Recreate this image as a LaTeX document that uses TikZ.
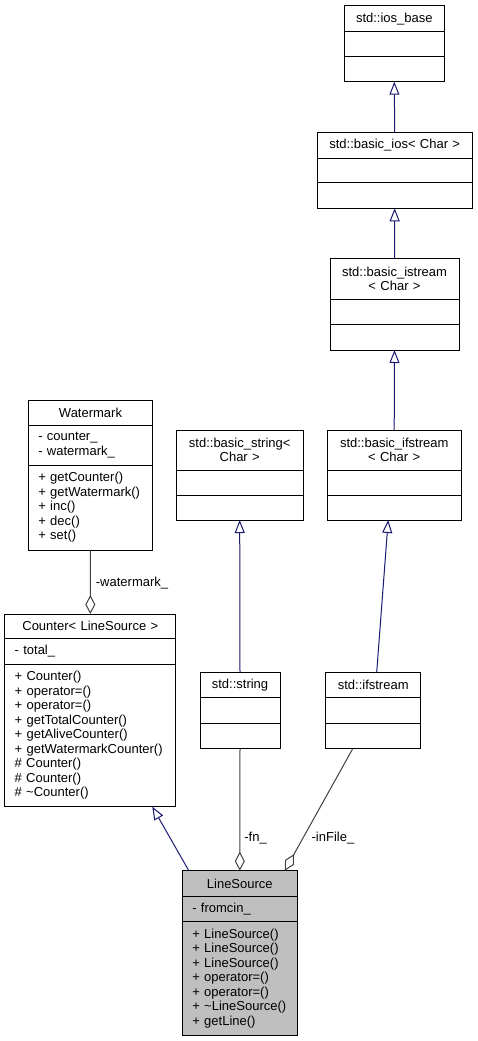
\documentclass[tikz,border=0pt]{standalone}
\usepackage{fontspec}
\setmainfont{Liberation Sans}
\usepackage{xcolor}
\usepackage{tikz}
\usetikzlibrary{positioning,arrows.meta}
\definecolor{inheritblue}{HTML}{191970}
\definecolor{usegrey}{HTML}{404040}
\definecolor{mainfill}{HTML}{BFBFBF}
\newcommand{\umlfont}{\fontsize{13}{14.5}\selectfont}

\begin{document}
\begin{tikzpicture}[x=1pt, y=-1pt, node distance=0pt,
  part/.style 2 args={rectangle, draw=black, line width=1pt, outer sep=0pt, inner xsep=10pt, inner ysep=0pt, anchor=north, text width=#1-20pt, minimum height=#2, font=\umlfont},
  head/.style 2 args={part={#1}{#2}, align=center},
  body/.style 2 args={part={#1}{#2}, align=left},
  inherit/.style={draw=inheritblue, line width=1pt, -{Triangle[open, length=13pt, width=10pt]}},
  member/.style={draw=usegrey, line width=1pt, -{Diamond[open, length=19pt, width=10pt]}},
  role/.style={font=\umlfont, inner sep=0pt, anchor=west}]
\useasboundingbox (0,0) rectangle (477,1041);

\node (iosbase) [head={100pt}{26pt}] at (394.3,5.7) {std::ios\_base};
\node (iosbase-a) [below=of iosbase, body={100pt}{25pt}] {};
\node (iosbase-m) [below=of iosbase-a, body={100pt}{25pt}] {};

\node (basicios) [head={155.3pt}{25.6pt}] at (394.7,132.7) {std::basic\_ios< Char >};
\node (basicios-a) [below=of basicios, body={155.3pt}{24.4pt}] {};
\node (basicios-m) [below=of basicios-a, body={155.3pt}{25.6pt}] {};

\node (basicistream) [head={129pt}{40.3pt}] at (394.5,258.7) {std::basic\_istream\\< Char >};
\node (basicistream-a) [below=of basicistream, body={129pt}{25pt}] {};
\node (basicistream-m) [below=of basicistream-a, body={129pt}{26pt}] {};

\node (basicifstream) [head={133.7pt}{40pt}] at (394.2,430) {std::basic\_ifstream\\< Char >};
\node (basicifstream-a) [below=of basicifstream, body={133.7pt}{25pt}] {};
\node (basicifstream-m) [below=of basicifstream-a, body={133.7pt}{25pt}] {};

\node (basicstring) [head={127.3pt}{40pt}] at (239.7,430) {std::basic\_string<\\Char >};
\node (basicstring-a) [below=of basicstring, body={127.3pt}{25pt}] {};
\node (basicstring-m) [below=of basicstring-a, body={127.3pt}{25pt}] {};

\node (watermark) [head={124.4pt}{25pt}] at (90.5,400) {Watermark};
\node (watermark-a) [below=of watermark, body={124.4pt}{40pt}] {- counter\_\\- watermark\_};
\node (watermark-m) [below=of watermark-a, body={124.4pt}{85pt}] {+ getCounter()\\+ getWatermark()\\+ inc()\\+ dec()\\+ set()};

\node (counter) [head={171.3pt}{24.3pt}] at (90.3,614) {Counter< LineSource >};
\node (counter-a) [below=of counter, body={171.3pt}{25.7pt}] {- total\_};
\node (counter-m) [below=of counter-a, body={171.3pt}{142.7pt}] {+ Counter()\\+ operator=()\\+ operator=()\\+ getTotalCounter()\\+ getAliveCounter()\\+ getWatermarkCounter()\\\# Counter()\\\# Counter()\\\# \textasciitilde Counter()};

\node (string) [head={80pt}{25.4pt}] at (240,672.3) {std::string};
\node (string-a) [below=of string, body={80pt}{25.6pt}] {};
\node (string-m) [below=of string-a, body={80pt}{25.4pt}] {};

\node (ifstream) [head={95pt}{25.4pt}] at (373.2,672.3) {std::ifstream};
\node (ifstream-a) [below=of ifstream, body={95pt}{25.6pt}] {};
\node (ifstream-m) [below=of ifstream-a, body={95pt}{25.4pt}] {};

\node (linesource) [head={115pt}{25.3pt}, fill=mainfill] at (239.8,870.7) {LineSource};
\node (linesource-a) [below=of linesource, body={115pt}{25.7pt}, fill=mainfill] {- fromcin\_};
\node (linesource-m) [below=of linesource-a, body={115pt}{113.3pt}, fill=mainfill] {+ LineSource()\\+ LineSource()\\+ LineSource()\\+ operator=()\\+ operator=()\\+ \textasciitilde LineSource()\\+ getLine()};

\draw[inherit] (basicios.north) -- (iosbase-m.south);
\draw[inherit] (basicistream.north) -- (basicios-m.south);
\draw[inherit] (basicifstream.north) -- (basicistream-m.south);
\draw[inherit] (string.north) -- (basicstring-m.south);
\draw[inherit] ([xshift=3.5pt]ifstream.north) -- ([xshift=-6pt]basicifstream-m.south);
\draw[inherit] ([xshift=-51pt]linesource.north) -- ([xshift=62pt]counter-m.south);
\draw[member] (watermark-m.south) -- (counter.north) node[role, pos=0.51, xshift=5pt] (wmrole) {-watermark\_};
\draw[member] (string-m.south) -- (linesource.north) node[role, pos=0.73, xshift=4pt] (fnrole) {-fn\_};
\draw[member] ([xshift=-20.5pt]ifstream-m.south) -- ([xshift=45pt]linesource.north) node[role, pos=0.73, xshift=8pt] (infilerole) {-inFile\_};
\end{tikzpicture}
\end{document}
